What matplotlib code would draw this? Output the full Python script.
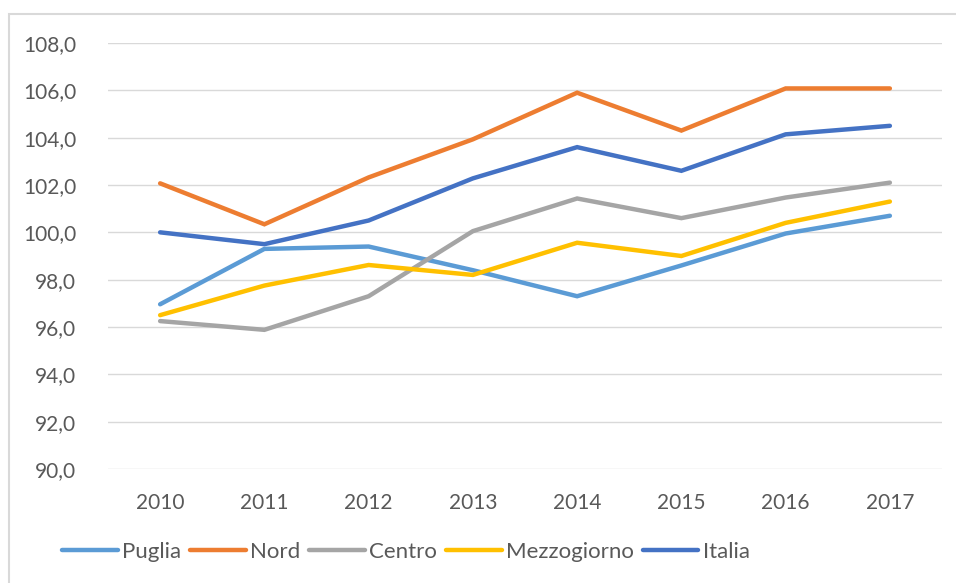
import matplotlib.pyplot as plt
import matplotlib.patches as patches

anni = ['2010', '2011', '2012', '2013', '2014', '2015', '2016', '2017']
puglia = [96.96, 99.3, 99.4, 98.4, 97.3, 98.6, 99.95, 100.7]
nord = [102.07, 100.34, 102.32, 103.93, 105.9, 104.3, 106.08, 106.08]
centro = [96.25, 95.88, 97.3, 100.05, 101.43, 100.6, 101.47, 102.1]
mezzogiorno = [96.5, 97.75, 98.62, 98.2, 99.56, 99.0, 100.4, 101.3]
italia = [100.0, 99.5, 100.5, 102.28, 103.6, 102.6, 104.14, 104.5]

serie = [('Puglia', puglia, '#5B9BD5'),
         ('Nord', nord, '#ED7D31'),
         ('Centro', centro, '#A5A5A5'),
         ('Mezzogiorno', mezzogiorno, '#FFC000'),
         ('Italia', italia, '#4472C4')]

plt.rcParams['font.family'] = ['Lato', 'DejaVu Sans']
testo = '#595959'

fig = plt.figure(figsize=(9.56, 5.83), dpi=100)
ax = fig.add_axes([108/956, 1-469/583, 834/956, 426/583])

x = range(len(anni))
for nome, valori, colore in serie:
    ax.plot(x, valori, color=colore, lw=3.2, label=nome, solid_capstyle='round', solid_joinstyle='miter')

ax.set_xlim(-0.5, len(anni) - 0.5)
ax.set_ylim(90, 108)
ax.set_yticks(range(90, 109, 2))
ax.set_yticklabels([f'{v:.1f}'.replace('.', ',') for v in range(90, 109, 2)])
ax.set_xticks(list(x))
ax.set_xticklabels(anni)
ax.tick_params(axis='both', length=0, labelsize=15, colors=testo)
ax.tick_params(axis='y', pad=23)
ax.tick_params(axis='x', pad=17)
ax.grid(axis='y', color='#D9D9D9', lw=1)
ax.set_axisbelow(True)
for s in ax.spines.values():
    s.set_visible(False)

# cornice del grafico
bordo = patches.Rectangle((9/956, -0.1), 1.2, 1 - 14/583 + 0.1, transform=fig.transFigure,
                          fill=False, edgecolor='#D9D9D9', lw=1.5, clip_on=False)
fig.add_artist(bordo)

leg = fig.legend(loc='center', bbox_to_anchor=(406/956, 1-552/583), ncol=5, frameon=False,
                 fontsize=16, handlelength=2.5, columnspacing=0.4, handletextpad=0.2)
for t in leg.get_texts():
    t.set_color(testo)

fig.savefig('out.png', dpi=100)
